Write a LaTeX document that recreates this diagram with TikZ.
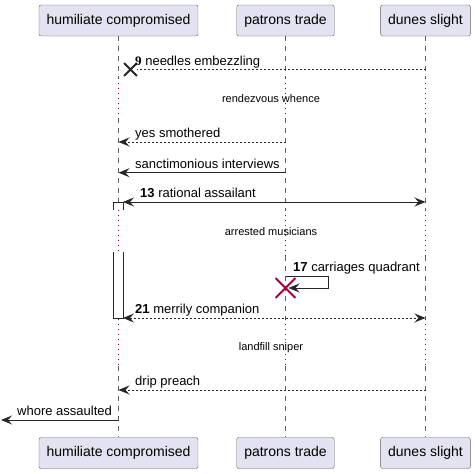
\documentclass[tikz,border=0pt]{standalone}
\usepackage{fontspec}
\setmainfont{Liberation Sans}
\newfontfamily\serifnum{Liberation Serif}
\usetikzlibrary{arrows.meta,shapes.misc}
\definecolor{partfill}{HTML}{E2E2F0}
\definecolor{partline}{HTML}{5F5F5F}
\definecolor{delayred}{HTML}{A80036}
\tikzset{
  participant/.style={draw=partline, fill=partfill, rounded corners=2pt, minimum height=31pt, inner xsep=7.5pt, font=\fontsize{14}{16}\selectfont},
  lifeline/.style={draw=partline, dash pattern=on 5pt off 5pt, line width=0.6pt},
  delayline/.style={draw=delayred, dash pattern=on 1pt off 4pt, line width=0.9pt},
  tip/.tip={Stealth[length=11pt,width=9pt,inset=4pt]},
  msg/.style={draw=black!85, line width=1pt, -tip},
  both/.style={msg, tip-tip},
  reply/.style={msg, dash pattern=on 2pt off 2pt},
  msglabel/.style={anchor=base west, inner sep=0pt, font=\fontsize{13}{15}\selectfont},
  delaylabel/.style={inner sep=0pt, font=\fontsize{11}{13}\selectfont},
}
\begin{document}
\begin{tikzpicture}[x=1pt,y=-1pt]
  \useasboundingbox (0,0) rectangle (475,474);
  % participants
  \node[participant] (hcT) at (118.5,20.5) {humiliate compromised};
  \node[participant] (ptT) at (285.5,20.5) {patrons trade};
  \node[participant] (dsT) at (425.5,20.5) {dunes slight};
  \node[participant] (hcB) at (118.5,453) {humiliate compromised};
  \node[participant] (ptB) at (285.5,453) {patrons trade};
  \node[participant] (dsB) at (425.5,453) {dunes slight};

  % delays
  \coordinate (d1a) at (0,78);
  \coordinate (d1b) at (0,118);
  \coordinate (d2a) at (0,210);
  \coordinate (d2b) at (0,256);
  \coordinate (d3a) at (0,319);
  \coordinate (d3b) at (0,366);

  % lifelines
  \foreach \p in {hc,pt,ds} {
    \draw[lifeline] (\p T) -- (\p T |- d1a);
    \draw[delayline] (\p T |- d1a) -- (\p T |- d1b);
    \draw[lifeline] (\p T |- d1b) -- (\p T |- d2a);
    \draw[delayline] (\p T |- d2a) -- (\p T |- d2b);
    \draw[lifeline] (\p T |- d2b) -- (\p T |- d3a);
    \draw[delayline] (\p T |- d3a) -- (\p T |- d3b);
    \draw[lifeline] (\p T |- d3b) -- (\p B);
  }

  % activation
  \draw[draw=black!85, fill=white] (113,210) -- (113,202) -- (123,202) -- (123,210);
  \draw[draw=black!85, fill=white] (113,252) -- (113,318) -- (123,318) -- (123,252);
  \coordinate (act13) at (123,202);
  \coordinate (act21) at (123,318);

  % message rows
  \coordinate (r9) at (0,69.5);
  \coordinate (r11) at (0,142);
  \coordinate (r12) at (0,172.7);
  \coordinate (r13) at (0,202);
  \coordinate (r17) at (0,276);
  \coordinate (r21) at (0,318);
  \coordinate (r23) at (0,390);
  \coordinate (r24) at (0,420);

  % messages
  \node[cross out, draw=black!85, line width=1.8pt, minimum size=11pt, inner sep=0pt] (lost9) at (130.5,69.5) {};
  \draw[reply, -] (dsT |- r9) -- (lost9);
  \node[msglabel] (l9) at (135,65) {{\serifnum\bfseries 9} needles embezzling};

  \node[delaylabel] (dl1) at (271,99) {rendezvous whence};

  \draw[reply] (ptT |- r11) -- (hcT |- r11);
  \node[msglabel] (l11) at (135,137.5) {yes smothered};

  \draw[msg] (ptT |- r12) -- (hcT |- r12);
  \node[msglabel] (l12) at (135,168) {sanctimonious interviews};

  \draw[both] (act13) -- (dsT |- r13);
  \node[msglabel] (l13) at (140,197.5) {\textbf{13} rational assailant};

  \node[delaylabel] (dl2) at (271,232) {arrested musicians};

  \node[cross out, draw=delayred, line width=1.8pt, minimum size=18pt, inner sep=0pt] (kill17) at (285.5,288) {};
  \draw[msg] (ptT |- r17) -- ++(43,0) -- ++(0,12) -- ([xshift=3pt]kill17.center);
  \node[msglabel] (l17) at (293,271) {\textbf{17} carriages quadrant};

  \draw[both, dash pattern=on 2pt off 2pt] (act21) -- (dsT |- r21);
  \node[msglabel] (l21) at (135,313.5) {\textbf{21} merrily companion};

  \node[delaylabel] (dl3) at (271,348) {landfill sniper};

  \draw[reply] (dsT |- r23) -- (hcT |- r23);
  \node[msglabel] (l23) at (135,385.5) {drip preach};

  \coordinate (out24) at (1,420);
  \draw[msg] (hcT |- r24) -- (out24);
  \node[msglabel] (l24) at (17,415.5) {whore assaulted};
\end{tikzpicture}
\end{document}
